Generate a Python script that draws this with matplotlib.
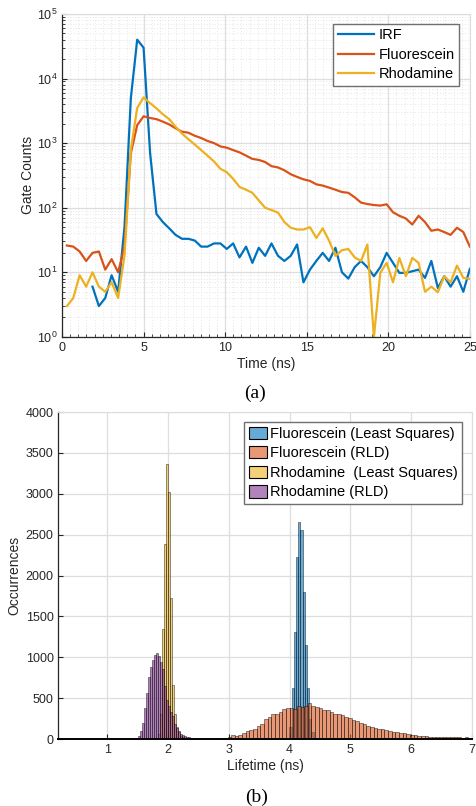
import numpy as np
import matplotlib
matplotlib.use("Agg")
import matplotlib.pyplot as plt
import matplotlib.ticker as mtick

plt.rcParams["font.family"] = ["Liberation Sans", "DejaVu Sans"]
plt.rcParams["mathtext.fontset"] = "custom"
plt.rcParams["mathtext.rm"] = "Liberation Sans"

# ---- (a) gate counts vs time ----
time_ns = [0.30, 0.69, 1.08, 1.48, 1.87, 2.26, 2.65, 3.04, 3.44, 3.83,
           4.22, 4.61, 5.00, 5.40, 5.79, 6.18, 6.57, 6.96, 7.36, 7.75,
           8.14, 8.53, 8.92, 9.32, 9.71, 10.10, 10.49, 10.88, 11.28, 11.67,
           12.06, 12.45, 12.84, 13.24, 13.63, 14.02, 14.41, 14.80, 15.20, 15.59,
           15.98, 16.37, 16.76, 17.16, 17.55, 17.94, 18.33, 18.72, 19.12, 19.51,
           19.90, 20.29, 20.68, 21.08, 21.47, 21.86, 22.25, 22.64, 23.04, 23.43,
           23.82, 24.21, 24.60, 25.00]

irf_counts = [np.nan, np.nan, np.nan, np.nan, 6, 3, 4, 9, 5, 50,
              5000, 40000, 30000, 700, 80, 60, 48, 38, 33, 33,
              31, 25, 25, 28, 28, 23, 28, 17, 25, 14,
              24, 18, 28, 18, 15, 18, 27, 7, 11, 15,
              20, 15, 24, 10, 8, 12, 15, 12, 8.7, 12,
              20, 14, 9.8, 9.8, 10.4, 11, 8.2, 15, 5.7, 8.7,
              6, 8.7, 5, 11.3]

fluorescein_counts = [26, 25, 21, 15, 20, 21, 11, 16, 10, 25,
                      700, 1900, 2600, 2450, 2350, 2150, 1950, 1700, 1500, 1450,
                      1300, 1200, 1080, 1000, 890, 850, 780, 720, 640, 570,
                      550, 510, 440, 420, 380, 330, 300, 275, 260, 230,
                      220, 205, 190, 175, 170, 145, 120, 114, 110, 108,
                      113, 85, 75, 68, 55, 75, 60, 44, 46, 42,
                      38, 49, 42, 25]

rhodamine_counts = [3, 4, 9, 6, 10, 6, 5, 7, 4, 18,
                    800, 3500, 5100, 4150, 3450, 2800, 2350, 1800, 1400, 1150,
                    950, 780, 640, 520, 400, 355, 280, 210, 190, 170,
                    130, 100, 92, 84, 60, 49, 46, 46, 50, 34,
                    48, 31, 18, 22, 23, 17, 15, 27, 1, 9.8,
                    14, 7, 16.7, 8.7, 16.7, 14, 5, 6, 4.9, 8.7,
                    7, 12.7, 8.2, 7.9]

# ---- (b) lifetime histograms: first bin edge, bin width, counts ----
fl_ls_start, fl_ls_width = 3.998, 0.036
fl_ls_counts = [150, 630, 1310, 2230, 2650, 2560, 1800, 1150, 630, 250, 80]

fl_rld_start, fl_rld_width = 2.80, 0.06
fl_rld_counts = [8, 12, 18, 28, 45, 40, 55, 75, 95, 110,
                 120, 160, 180, 240, 265, 310, 300, 335, 370, 375,
                 385, 370, 405, 390, 400, 435, 410, 395, 380, 360,
                 355, 330, 305, 300, 290, 270, 262, 235, 220, 195,
                 180, 160, 150, 140, 125, 118, 105, 98, 90, 85,
                 78, 68, 60, 52, 48, 42, 38, 35, 30, 30,
                 28, 30, 26, 28, 22, 20, 20, 18, 20, 16]

rh_ls_start, rh_ls_width = 1.80, 0.033
rh_ls_counts = [10, 60, 300, 1350, 2390, 3360, 3020, 1720, 660, 300, 150, 80, 40, 20]

rh_rld_start, rh_rld_width = 1.434, 0.033
rh_rld_counts = [5, 15, 40, 100, 200, 380, 560, 760, 880, 970,
                 1030, 1056, 1010, 940, 860, 650, 480, 400, 330, 280,
                 180, 130, 95, 60, 45, 35, 28, 20, 15, 12, 8]

hist_labels = ["Fluorescein (Least Squares)", "Fluorescein (RLD)",
               "Rhodamine  (Least Squares)", "Rhodamine (RLD)"]

BLUE, ORANGE, YELLOW, PURPLE = "#0072BD", "#D95319", "#EDB120", "#7E2F8E"
TXT = "#262626"


def style_axes(ax):
    for side in ("left", "bottom"):
        ax.spines[side].set_color(TXT)
        ax.spines[side].set_linewidth(0.9)
    for side in ("top", "right"):
        ax.spines[side].set_color("#dcdcdc")
        ax.spines[side].set_linewidth(0.8)
    ax.tick_params(which="both", direction="in", colors=TXT, labelsize=9,
                   top=False, right=False)
    ax.tick_params(which="major", length=3.5)
    ax.tick_params(which="minor", length=2)
    ax.set_axisbelow(True)


fig = plt.figure(figsize=(4.77, 8.06), dpi=100)

# ---------------- top panel ----------------
ax1 = fig.add_axes([0.130, 0.582, 0.855, 0.4007])
ax1.plot(time_ns, irf_counts, color=BLUE, lw=1.6, label="IRF")
ax1.plot(time_ns, fluorescein_counts, color=ORANGE, lw=1.6, label="Fluorescein")
ax1.plot(time_ns, rhodamine_counts, color=YELLOW, lw=1.6, label="Rhodamine")
ax1.set_yscale("log")
ax1.set_xlim(0, 25)
ax1.set_ylim(1, 1e5)
ax1.xaxis.set_major_locator(mtick.MultipleLocator(5))
ax1.xaxis.set_minor_locator(mtick.MultipleLocator(0.5))
ax1.yaxis.set_major_locator(mtick.LogLocator(base=10, numticks=10))
ax1.yaxis.set_minor_locator(mtick.LogLocator(base=10, subs=np.arange(2, 10), numticks=20))
ax1.yaxis.set_minor_formatter(mtick.NullFormatter())
ax1.grid(which="major", color="#dedede", lw=0.9)
ax1.grid(which="minor", color="#d0d0d0", lw=0.5, ls=(0, (1, 3)))
style_axes(ax1)
ax1.set_xlabel("Time (ns)", fontsize=10, color=TXT, labelpad=2)
ax1.set_ylabel("Gate Counts", fontsize=10, color=TXT, labelpad=1)
leg1 = ax1.legend(loc="upper right", bbox_to_anchor=(0.973, 0.969), fontsize=10.5,
                  fancybox=False, framealpha=1, edgecolor="#707070",
                  handlelength=2.5, handletextpad=0.3, labelspacing=0.38,
                  borderpad=0.3, borderaxespad=0)
leg1.get_frame().set_linewidth(1.0)

# ---------------- bottom panel ----------------
ax2 = fig.add_axes([0.1226, 0.0831, 0.867, 0.4057])
hist_specs = [
    (fl_ls_start, fl_ls_width, fl_ls_counts, BLUE),
    (fl_rld_start, fl_rld_width, fl_rld_counts, ORANGE),
    (rh_ls_start, rh_ls_width, rh_ls_counts, YELLOW),
    (rh_rld_start, rh_rld_width, rh_rld_counts, PURPLE),
]
for (start, width, counts, col), lab in zip(hist_specs, hist_labels):
    lefts = start + width * np.arange(len(counts))
    face = matplotlib.colors.to_rgba(col, 0.6)
    ax2.bar(lefts, counts, width=width, align="edge", facecolor=face,
            edgecolor=(0, 0, 0, 0.75), linewidth=0.4, label=lab)

ax2.set_xlim(0.2, 7)
ax2.set_ylim(0, 4000)
ax2.xaxis.set_major_locator(mtick.MultipleLocator(1))
ax2.yaxis.set_major_locator(mtick.MultipleLocator(500))
ax2.grid(which="major", color="#dedede", lw=0.9)
style_axes(ax2)
ax2.spines["bottom"].set_color("black")
ax2.spines["bottom"].set_linewidth(1.4)
ax2.set_xlabel("Lifetime (ns)", fontsize=10, color=TXT, labelpad=2)
ax2.set_ylabel("Occurrences", fontsize=10, color=TXT, labelpad=3)
leg2 = ax2.legend(loc="upper right", bbox_to_anchor=(0.976, 0.969), fontsize=10.5,
                  fancybox=False, framealpha=1, edgecolor="#707070",
                  handlelength=1.25, handleheight=0.9, handletextpad=0.2,
                  labelspacing=0.38, borderpad=0.3, borderaxespad=0)
leg2.get_frame().set_linewidth(1.0)
for patch in leg2.get_patches():
    patch.set_edgecolor("black")
    patch.set_linewidth(0.8)

# captions
fig.text(255 / 477, 1 - 393 / 806, "(a)", ha="center", va="center",
         family="Liberation Serif", fontsize=14)
fig.text(257 / 477, 1 - 797 / 806, "(b)", ha="center", va="center",
         family="Liberation Serif", fontsize=14)

fig.savefig("out.png", dpi=100)
